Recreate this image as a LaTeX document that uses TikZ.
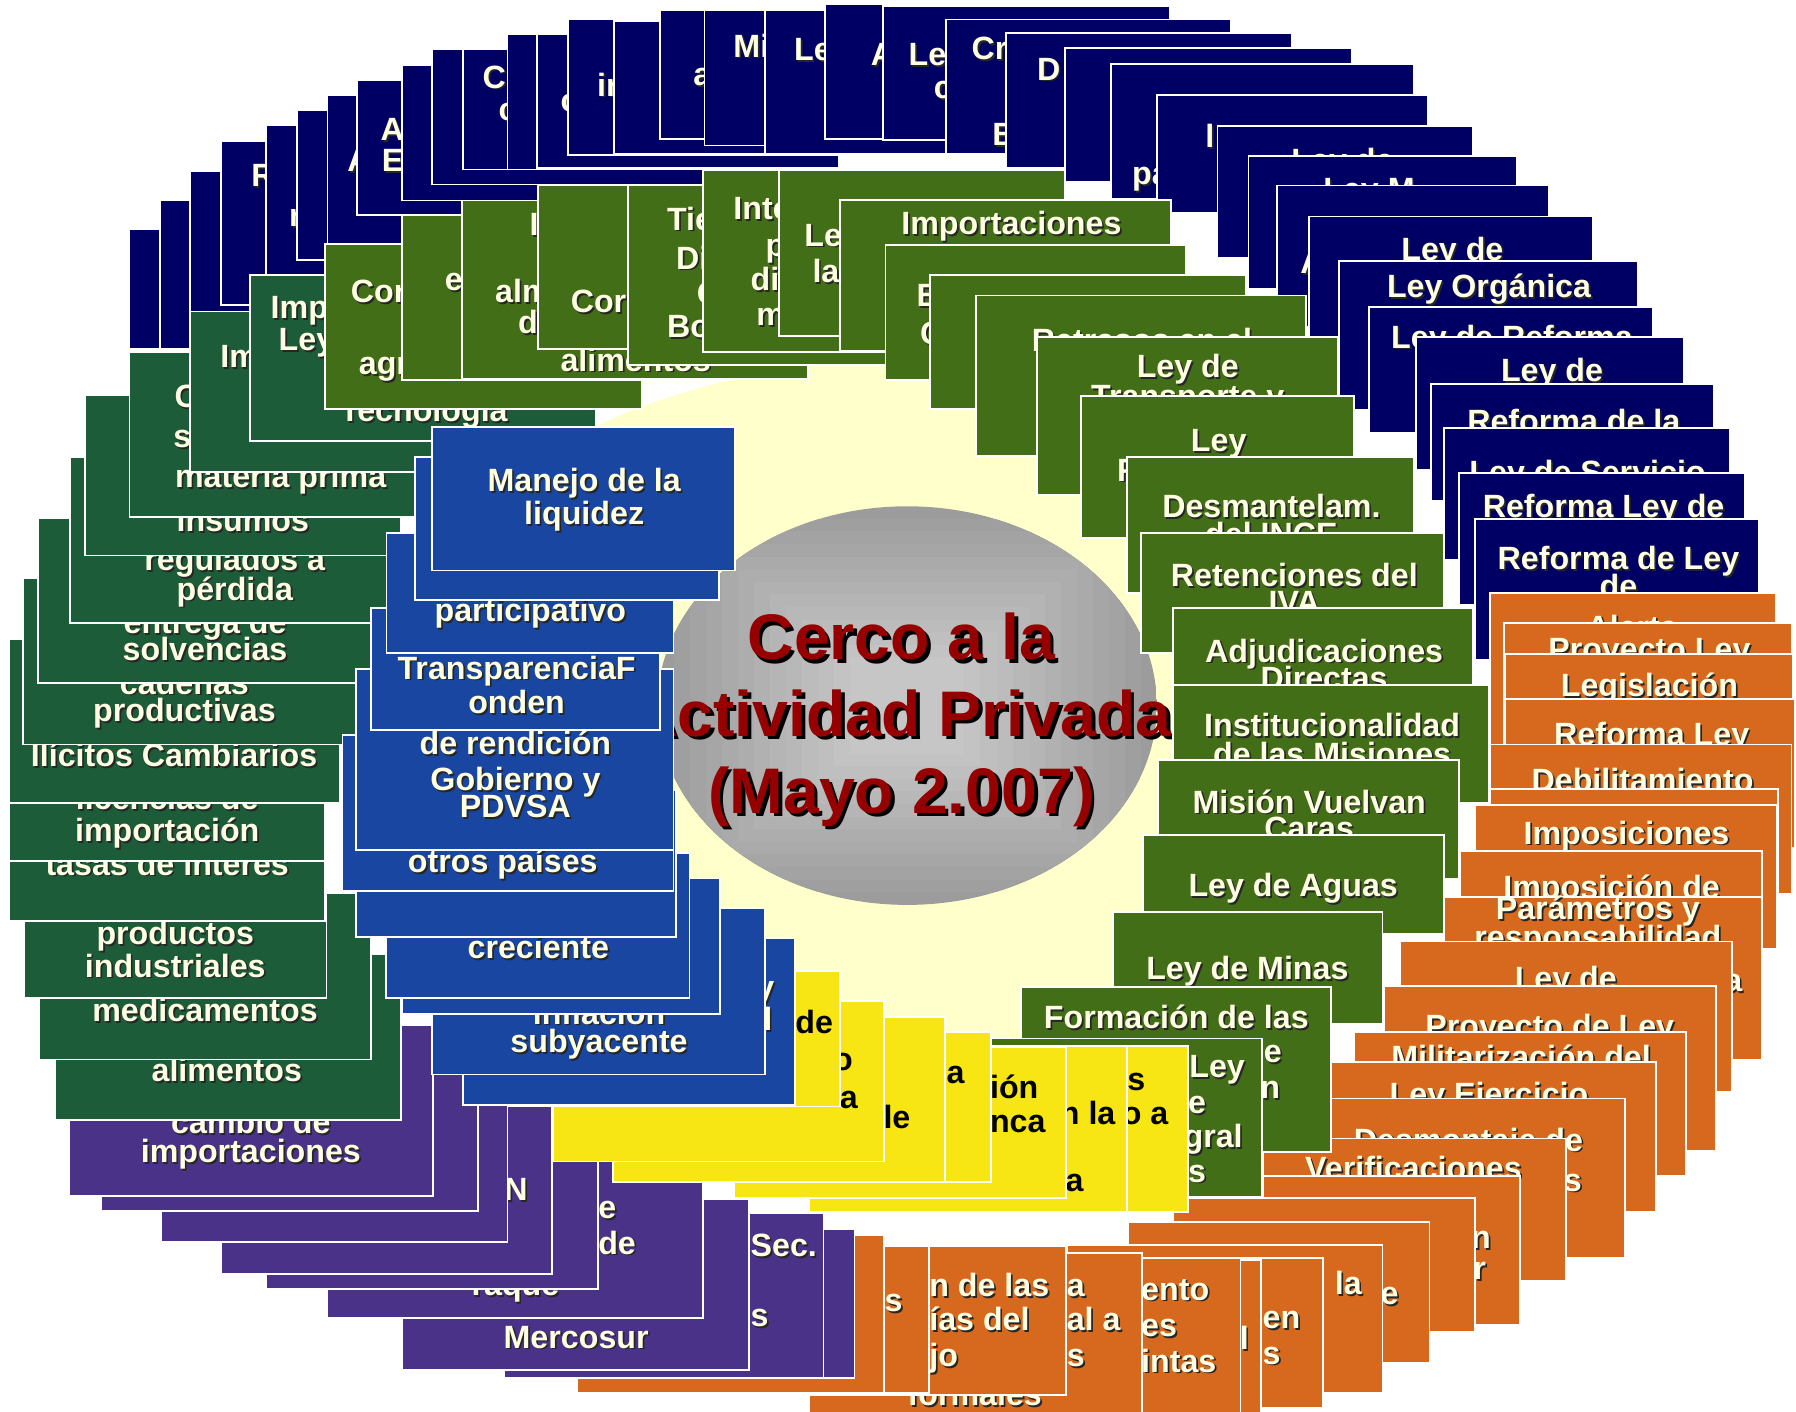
\documentclass[tikz,border=0pt]{standalone}
\usepackage{fontspec}
\setmainfont{Liberation Sans}
\definecolor{navy}{RGB}{0,0,100}
\definecolor{dgreen}{RGB}{28,92,56}
\definecolor{olive}{RGB}{65,110,22}
\definecolor{cblue}{RGB}{25,70,160}
\definecolor{cpurple}{RGB}{74,50,136}
\definecolor{cyellow}{RGB}{247,230,20}
\definecolor{corange}{RGB}{215,105,30}
\definecolor{cream}{RGB}{255,255,228}
\definecolor{paleyel}{RGB}{255,255,204}
\definecolor{titred}{RGB}{150,0,0}
\newcommand\boxfont{\bfseries\fontsize{16}{17}\selectfont}
\newcommand\titfont{\bfseries\fontsize{32}{34}\selectfont}
% box: fill colour, x1, y1, x2, y2
\newcommand\obox[5]{\filldraw[box, fill=#1] (#2,#3) rectangle (#4,#5);}
% centred line with shadow
\newcommand\ctext[3]{\node[shd, anchor=base] at ({#1+1.5},{#2+11.5}) {#3};
  \node[lbl, anchor=base] at (#1,{#2+10}) {#3};}
% line cut on the left, anchored at its start
\newcommand\wtext[3]{\node[shd, anchor=base west] at ({#1+1.5},{#2+11.5}) {#3};
  \node[lbl, anchor=base west] at (#1,{#2+10}) {#3};}
% black text on the yellow boxes
\newcommand\ytext[3]{\node[ytxt, anchor=base west] at (#1,{#2+10}) {#3};}
\begin{document}
\begin{tikzpicture}[
    x=0.02cm, y=-0.02cm,
    box/.style={draw=white, line width=0.9pt},
    lbl/.style={text=cream, inner sep=0pt, font=\boxfont},
    shd/.style={text=black!85, inner sep=0pt, font=\boxfont},
    ytxt/.style={text=black, inner sep=0pt, font=\boxfont},
    tit/.style={text=titred, inner sep=0pt, font=\titfont, anchor=base},
    titshd/.style={text=black, inner sep=0pt, font=\titfont, anchor=base},
  ]
  \useasboundingbox (0,0) rectangle (1568,1232);
  \fill[white] (0,0) rectangle (1568,1232);

  % background
  \fill[paleyel] (790,645) ellipse [x radius=480, y radius=330];
  \begin{scope}
    \clip (792,616) ellipse [x radius=218, y radius=174];
    \foreach \k in {0,...,12} {
      \pgfmathsetmacro\p{39-\k*1.4}
      \fill[black!\p] ({574+\k*14},{442+\k*11}) rectangle ({1010-\k*14},{790-\k*11});
    }
  \end{scope}

  % title
  \foreach \t/\yy in {Cerco a la/576, Actividad Privada/643, {(Mayo 2.007)}/710} {
    \node[titshd] at (790,{\yy+3}) {\t};
    \node[tit] at (787,\yy) {\t};
  }

  % navy boxes
  \obox{navy}{113}{200}{375}{305}
  \obox{navy}{140}{175}{402}{305}
  \obox{navy}{166}{149}{428}{290}
  \obox{navy}{193}{123}{455}{266} \wtext{219}{153}{R}
  \obox{navy}{232}{109}{494}{250} \wtext{252}{188}{r}
  \obox{navy}{259}{96}{521}{227}
  \obox{navy}{286}{83}{548}{232} \wtext{303}{140}{A}
  \obox{navy}{312}{70}{574}{188} \wtext{332}{113}{A} \wtext{333}{140}{E}
  \obox{navy}{351}{57}{613}{175}
  \obox{navy}{377}{43}{639}{161}
  \obox{navy}{404}{43}{666}{148} \wtext{421}{67}{C} \wtext{435}{95}{c}
  \obox{navy}{443}{30}{705}{148}
  \obox{navy}{469}{30}{732}{147} \wtext{489}{87}{c}
  \obox{navy}{496}{17}{758}{135} \wtext{521}{74}{ir}
  \obox{navy}{536}{18}{798}{134}
  \obox{navy}{576}{9}{838}{121} \wtext{605}{65}{a}
  \obox{navy}{615}{9}{877}{127} \wtext{640}{40}{Mi}
  \obox{navy}{668}{9}{930}{134} \wtext{693}{43}{Le}
  \obox{navy}{720}{3.5}{982}{121} \wtext{760}{47}{A}
  \obox{navy}{771}{5}{1021}{122} \wtext{793}{47}{Le} \wtext{815}{76}{c}
  \obox{navy}{826}{17}{1075}{134} \wtext{848}{42}{Cr} \wtext{866}{117}{B}
  \obox{navy}{878}{29}{1128}{147} \wtext{905}{60}{D}
  \obox{navy}{930}{42}{1180}{159}
  \obox{navy}{970}{56}{1234}{174} \wtext{988}{151}{pa}
  \obox{navy}{1010}{83}{1247}{186} \wtext{1052}{119}{l}
  \obox{navy}{1063}{110}{1286}{225} \ctext{1172}{140}{Ley de}
  \obox{navy}{1090}{136}{1324}{252} \wtext{1155}{165}{Ley M}
  \obox{navy}{1115}{162}{1352}{285} \wtext{1135}{229}{A}
  \obox{navy}{1143}{189}{1391}{305} \ctext{1268}{217}{Ley de}
  \obox{navy}{1169}{228}{1430}{358} \ctext{1300}{250}{Ley Orgánica}
  \obox{navy}{1195}{268}{1443}{378} \ctext{1320}{294}{Ley de Reforma}
  \obox{navy}{1236}{294}{1470}{410} \ctext{1355}{323}{Ley de}
  \obox{navy}{1249}{335}{1496}{437} \ctext{1374}{368}{Reforma de la}
  \obox{navy}{1261}{374}{1510}{489} \ctext{1386}{412}{Ley de Servicio}
  \obox{navy}{1274}{413}{1523}{528} \ctext{1400}{442}{Reforma Ley de}
  \obox{navy}{1288}{453}{1536}{576} \ctext{1413}{487}{Reforma de Ley} \ctext{1413}{512}{de}

  % orange boxes
  \obox{corange}{1301}{518}{1550}{650} \ctext{1425}{547}{Alerta}
  \obox{corange}{1313}{544}{1564}{680} \ctext{1440}{567}{Proyecto Ley}
  \obox{corange}{1314}{571}{1565}{700} \ctext{1440}{598}{Legislación}
  \obox{corange}{1314}{610}{1567}{740} \ctext{1442}{641}{Reforma Ley}
  \obox{corange}{1301}{650}{1564}{780} \ctext{1434}{681}{Debilitamiento}
  \obox{corange}{1301}{689}{1552}{800}
  \obox{corange}{1288}{703}{1551}{828} \ctext{1420}{727}{Imposiciones}
  \obox{corange}{1275}{743}{1538}{880} \ctext{1407}{774}{Imposición de}
  \obox{corange}{1261}{783}{1538}{925} \ctext{1395}{793}{Parámetros y}
    \ctext{1395}{818}{responsabilidad} \wtext{1505}{856}{a}
  \obox{corange}{1222}{822}{1512}{953} \ctext{1367}{854}{Ley de}
  \obox{corange}{1208}{861}{1498}{1005} \ctext{1353}{896}{Proyecto de Ley}
  \obox{corange}{1182}{901}{1472}{1027} \ctext{1328}{923}{Militarización del}
  \obox{corange}{1162}{927}{1446}{1058} \ctext{1300}{955}{Ley Ejercicio}
  \obox{corange}{1162}{959}{1419}{1098} \ctext{1282}{995}{Desmontaje de} \wtext{1365}{1030}{s}
  \obox{corange}{1103}{994}{1367}{1118} \ctext{1234}{1020}{Verificaciones}
  \obox{corange}{1103}{1027}{1327}{1157} \wtext{1284}{1080}{n} \wtext{1286}{1107}{r}
  \obox{corange}{1024}{1046}{1288}{1163}
  \obox{corange}{985}{1067}{1248}{1190} \wtext{1205}{1129}{e}
  \obox{corange}{932}{1087}{1207}{1216} \wtext{1165}{1120}{la}
  \obox{corange}{905}{1098}{1155}{1229} \wtext{1102}{1150}{en} \wtext{1102}{1181}{s}
  \obox{corange}{850}{1100}{1101}{1240} \wtext{1082}{1168}{l}
  \obox{corange}{830}{1098}{1083}{1240} \wtext{996}{1125}{ento} \wtext{996}{1157}{es}
    \wtext{996}{1188}{intas}
  \obox{corange}{706}{1094}{997}{1240} \wtext{931}{1122}{a} \wtext{931}{1152}{al a}
    \wtext{931}{1183}{s} \ctext{851}{1217}{formales}
  \obox{corange}{708}{1088}{931}{1218} \wtext{811}{1122}{n de las} \wtext{811}{1152}{ías del}
    \wtext{811}{1183}{jo}
  \obox{corange}{560}{1088}{811}{1216} \wtext{772}{1135}{s}
  \obox{corange}{504}{1078}{772}{1216}

  % purple boxes
  \obox{cpurple}{470}{1073}{746}{1203}
  \obox{cpurple}{440}{1059}{719}{1203} \wtext{655}{1087}{Sec.} \wtext{655}{1148}{s}
  \obox{cpurple}{351}{1047}{654}{1196} \ctext{503}{1167}{Mercosur}
  \obox{cpurple}{286}{1000}{614}{1151} \wtext{522}{1054}{e} \wtext{522}{1085}{de}
    \ctext{450}{1121}{raque}
  \obox{cpurple}{232}{975}{522}{1125}
  \obox{cpurple}{193}{962}{482}{1112} \wtext{440}{1038}{N}
  \obox{cpurple}{141}{934}{443}{1084}
  \obox{cpurple}{88}{907}{417}{1057}
  \obox{cpurple}{60}{895}{378}{1044} \ctext{219}{980}{cambio de} \ctext{219}{1005}{importaciones}

  % dark green boxes
  \obox{dgreen}{48}{833}{350}{978} \ctext{198}{934}{alimentos}
  \obox{dgreen}{34}{780}{324}{925} \ctext{179}{882}{medicamentos}
  \obox{dgreen}{21}{727}{285}{871} \ctext{153}{815}{productos} \ctext{153}{843}{industriales}
  \obox{dgreen}{8}{660}{284}{804} \ctext{146}{754}{tasas de interes}
  \obox{dgreen}{8}{608}{284}{752} \ctext{146}{697}{licencias de} \ctext{146}{725}{importación}
  \obox{dgreen}{8}{558}{297}{701} \ctext{152}{659}{Ilícitos Cambiarios}
  \obox{dgreen}{20}{505}{311}{650} \ctext{161}{596}{cadenas} \ctext{161}{620}{productivas}
  \obox{dgreen}{33}{452}{326}{596} \ctext{179}{543}{entrega de} \ctext{179}{567}{solvencias}
  \obox{dgreen}{61}{399}{338}{544} \ctext{205}{488}{regulados a} \ctext{205}{514}{pérdida}
  \obox{dgreen}{74}{345}{350}{485} \ctext{212}{454}{insumos}
  \obox{dgreen}{113}{307}{363}{451} \wtext{152}{346}{C} \wtext{151}{381}{s}
    \ctext{245}{416}{materia prima}
  \obox{dgreen}{166}{272}{440}{412} \wtext{192}{311}{Im}
  \obox{dgreen}{218}{240}{520}{385} \wtext{236}{268}{Imp} \wtext{243}{296}{Ley}
    \ctext{370}{358}{Tecnología}

  % olive boxes
  \obox{olive}{284}{213}{560}{357} \wtext{306}{254}{Cor} \wtext{313}{317}{agr}
  \obox{olive}{351}{188}{640}{331.5} \wtext{388}{244}{e}
  \obox{olive}{403}{175}{705.5}{330.6} \wtext{462}{196}{I} \wtext{432}{254}{alm}
    \wtext{452}{281}{d} \ctext{555}{314}{alimentos}
  \obox{olive}{469.5}{161.5}{720}{305} \wtext{498}{263}{Cor}
  \obox{olive}{548.5}{161.5}{800}{318.7} \wtext{582}{191}{Tie} \wtext{590}{225}{Di}
    \wtext{608}{256}{C} \wtext{582}{285}{Bo}
  \obox{olive}{614}{148.4}{870}{307} \wtext{640}{182}{Inte} \wtext{668}{214}{p}
    \wtext{655}{244}{di} \wtext{660}{274}{m}
  \obox{olive}{680}{148.4}{930}{293} \wtext{702}{205}{Le} \wtext{709}{237}{la}
  \obox{olive}{733}{174.6}{1022}{306} \ctext{883}{195}{Importaciones}
  \obox{olive}{773}{214}{1035}{332} \wtext{800}{258}{B} \wtext{803}{291}{C}
  \obox{olive}{812}{240}{1088}{357}
  \obox{olive}{852}{258}{1140}{398} \ctext{997}{297}{Retrasos en el}
  \obox{olive}{905}{294}{1168}{432} \ctext{1037}{320}{Ley de} \ctext{1037}{346}{Transporte y}
  \obox{olive}{944}{346}{1182}{470} \ctext{1064}{384}{Ley} \wtext{975}{410}{F}
  \obox{olive}{984}{399}{1234}{518} \ctext{1110}{442}{Desmantelam.} \ctext{1110}{466}{del INCE}
  \obox{olive}{996}{465}{1261}{570} \ctext{1130}{502}{Retenciones del} \ctext{1130}{526}{IVA}
  \obox{olive}{1024}{531}{1286}{640} \ctext{1156}{568}{Adjudicaciones} \ctext{1156}{592}{Directas}
  \obox{olive}{1024}{598}{1300}{701} \ctext{1163}{633}{Institucionalidad}
    \ctext{1163}{658}{de las Misiones}
  \obox{olive}{1011}{663.5}{1274}{767} \ctext{1143}{700}{Misión Vuelvan} \ctext{1143}{723}{Caras}
  \obox{olive}{998}{729}{1261}{815} \ctext{1129}{773}{Ley de Aguas}
  \obox{olive}{972}{796}{1207}{893.5} \ctext{1089}{845}{Ley de Minas}
  \obox{olive}{891.5}{862}{1162}{1005.5} \ctext{1027}{888}{Formación de las}
    \wtext{1103}{918}{e} \wtext{1100}{949}{n}
  \obox{olive}{865}{906.6}{1102}{1045} \wtext{1038}{931}{Ley} \wtext{1037}{962}{e}
    \wtext{1033}{992}{gral} \wtext{1037}{1022}{s}

  % yellow boxes
  \obox{cyellow}{747}{913}{1037}{1058} \ytext{984}{942}{s} \ytext{979}{972}{o a}
  \obox{cyellow}{706}{913}{984}{1058} \ytext{925}{972}{n la} \ytext{930}{1030}{a}
  \obox{cyellow}{641}{914}{931}{1046} \ytext{864}{949}{ión} \ytext{864}{979}{nca}
  \obox{cyellow}{575}{901}{865}{1032} \ytext{826}{936}{a}
  \obox{cyellow}{535}{888}{825}{1032} \ytext{771}{975}{le}
  \obox{cyellow}{483}{874}{772}{1014} \ytext{727}{925}{o} \ytext{733}{958}{a}
  \obox{cyellow}{444}{848}{733}{966} \ytext{694}{892}{de}

  % blue boxes
  \obox{cblue}{404}{819}{694}{965} \wtext{660}{862}{y} \wtext{666}{890}{l}
  \obox{cblue}{377.5}{793}{668}{938} \ctext{523}{884}{inflación} \ctext{523}{909}{subyacente}
  \obox{cblue}{351}{767}{628.5}{885}
  \obox{cblue}{337}{745}{602}{871} \ctext{470}{827}{creciente}
  \obox{cblue}{311}{690}{590}{818}
  \obox{cblue}{299}{642}{588}{778} \ctext{439}{752}{otros países}
  \obox{cblue}{311}{584}{588}{742} \ctext{450}{649}{de rendición} \ctext{450}{680}{Gobierno y}
    \ctext{450}{704}{PDVSA}
  \obox{cblue}{324}{531}{576}{637} \ctext{451}{583}{TransparenciaF} \ctext{451}{613}{onden}
  \obox{cblue}{337.5}{465}{588}{570} \ctext{463}{533}{participativo}
  \obox{cblue}{362.6}{399}{627.4}{524}
  \obox{cblue}{377}{373}{642}{498} \ctext{510}{419}{Manejo de la} \ctext{510}{448}{liquidez}
\end{tikzpicture}
\end{document}
